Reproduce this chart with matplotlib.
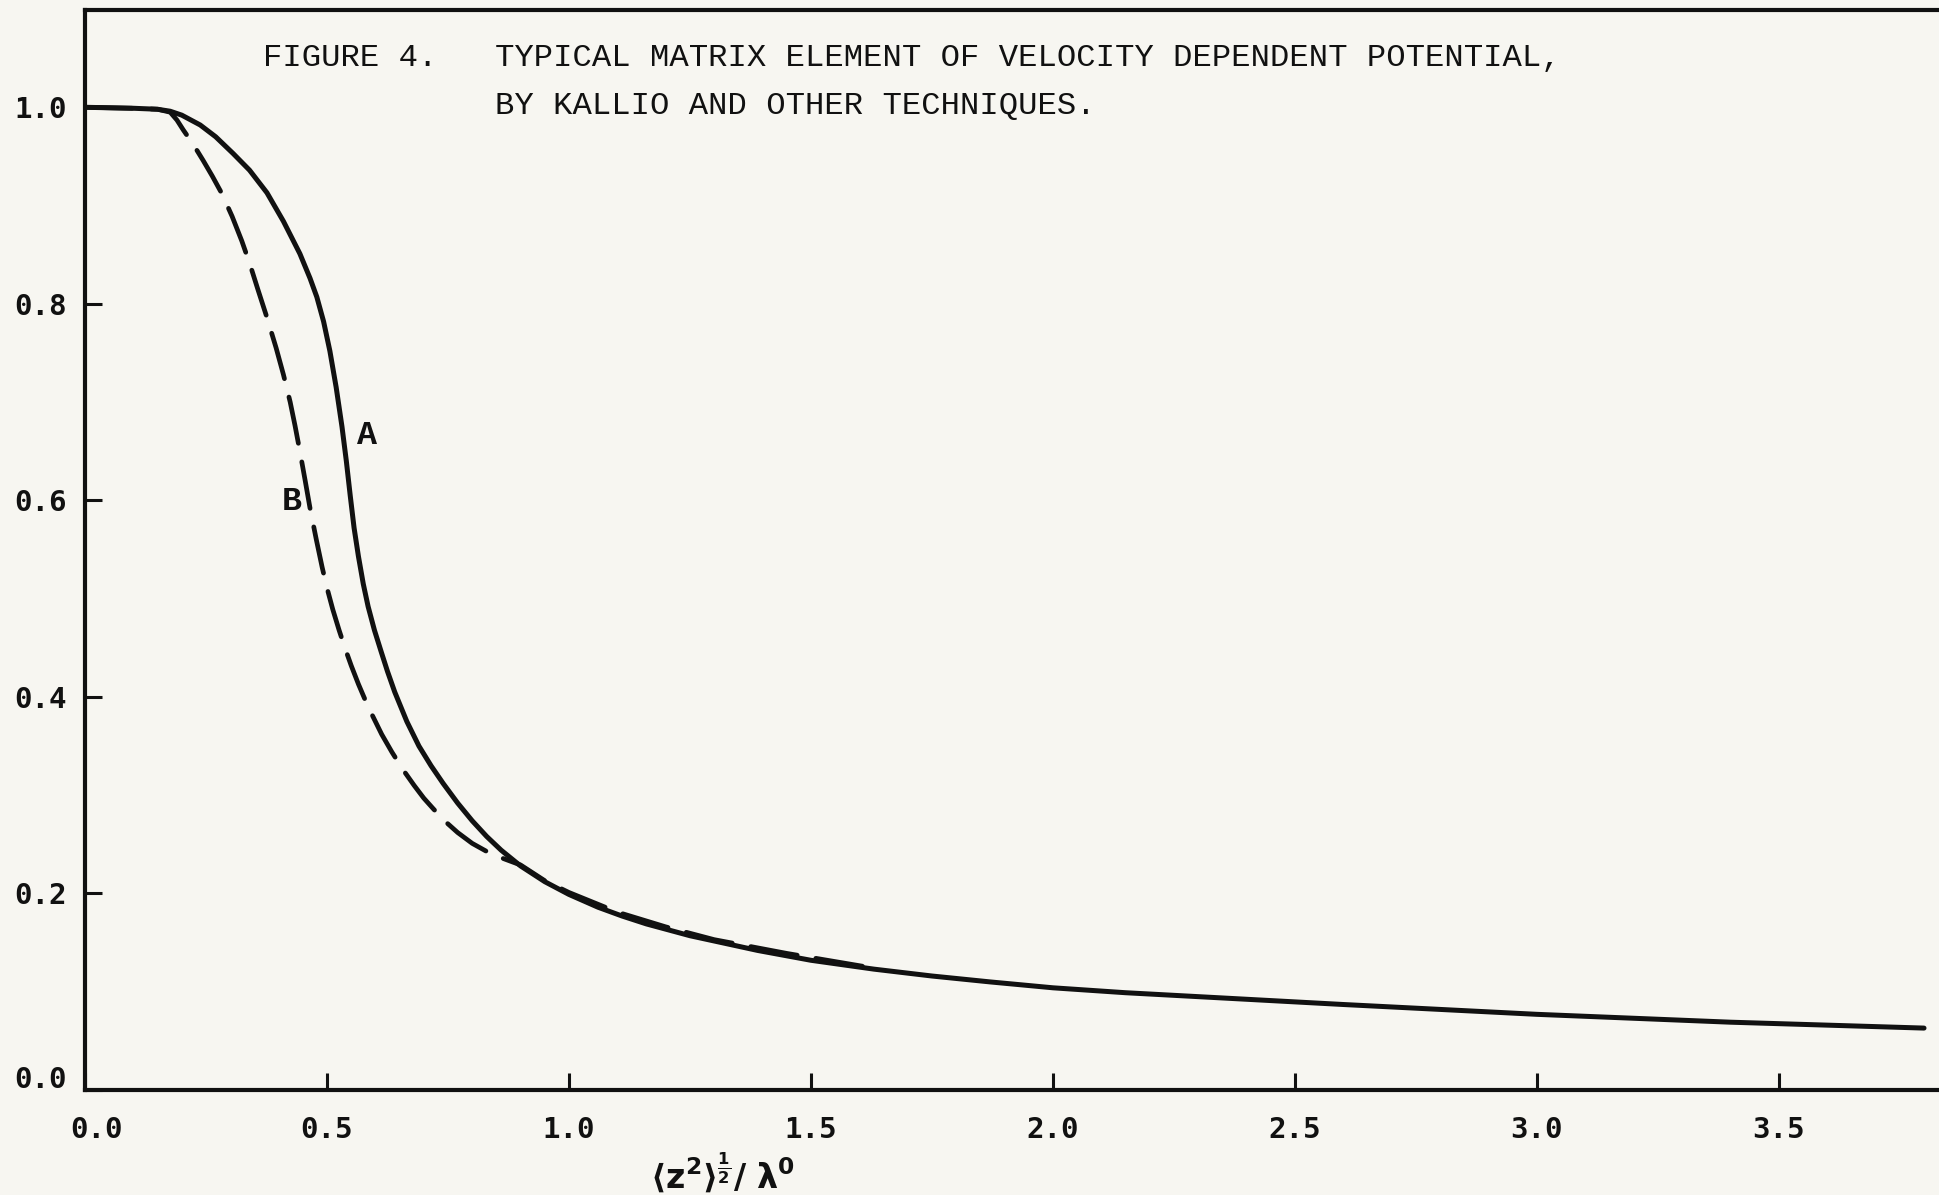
import numpy as np
import matplotlib.pyplot as plt
from matplotlib.transforms import ScaledTranslation

# curve A (solid)
x_a = [0.0, 0.10, 0.15, 0.176, 0.20, 0.238, 0.27, 0.306, 0.34, 0.376,
       0.41, 0.444, 0.465, 0.479, 0.493, 0.506, 0.519, 0.531, 0.540, 0.548,
       0.556, 0.565, 0.575, 0.585, 0.598, 0.612, 0.625, 0.64, 0.665, 0.69,
       0.715, 0.74, 0.77, 0.80, 0.83, 0.86, 0.90, 0.95, 1.0, 1.06,
       1.11, 1.16, 1.25, 1.39, 1.5, 1.63, 1.75, 1.87, 2.0, 2.15,
       2.3, 2.45, 2.6, 2.8, 3.0, 3.2, 3.4, 3.6, 3.8]
y_a = [1.0, 0.999, 0.998, 0.996, 0.992, 0.982, 0.970, 0.953, 0.936, 0.913,
       0.884, 0.851, 0.826, 0.807, 0.782, 0.752, 0.715, 0.675, 0.640, 0.605,
       0.572, 0.543, 0.515, 0.492, 0.468, 0.446, 0.426, 0.405, 0.375, 0.350,
       0.330, 0.312, 0.292, 0.274, 0.258, 0.244, 0.228, 0.212, 0.199, 0.186,
       0.177, 0.169, 0.157, 0.142, 0.132, 0.123, 0.116, 0.110, 0.104, 0.099,
       0.095, 0.091, 0.087, 0.082, 0.077, 0.073, 0.069, 0.066, 0.063]

# curve B (dashed)
x_b = [0.0, 0.10, 0.15, 0.176, 0.19, 0.203, 0.224, 0.244, 0.263, 0.283,
       0.304, 0.324, 0.341, 0.357, 0.376, 0.395, 0.41, 0.424, 0.434, 0.444,
       0.455, 0.465, 0.478, 0.49, 0.50, 0.512, 0.525, 0.537, 0.55, 0.565,
       0.578, 0.593, 0.613, 0.634, 0.657, 0.68, 0.70, 0.72, 0.745, 0.77,
       0.80, 0.84, 0.90, 0.95, 1.0, 1.1, 1.2, 1.3, 1.45, 1.63]
y_b = [1.0, 0.999, 0.998, 0.995, 0.987, 0.977, 0.962, 0.946, 0.930, 0.912,
       0.889, 0.864, 0.840, 0.815, 0.786, 0.755, 0.728, 0.700, 0.676, 0.650,
       0.620, 0.592, 0.560, 0.532, 0.511, 0.489, 0.468, 0.450, 0.432, 0.413,
       0.398, 0.382, 0.362, 0.344, 0.326, 0.310, 0.297, 0.286, 0.273, 0.262,
       0.251, 0.240, 0.229, 0.213, 0.201, 0.181, 0.166, 0.153, 0.139, 0.124]

xticks = [0.0, 0.5, 1.0, 1.5, 2.0, 2.5, 3.0, 3.5]
yticks = [0.0, 0.2, 0.4, 0.6, 0.8, 1.0]

ink = '#111111'
paper = '#f7f6f1'
plt.rcParams['mathtext.fontset'] = 'dejavusans'

fig = plt.figure(figsize=(19.4, 11.95), dpi=100, facecolor=paper)
ax = fig.add_axes([85/1940, 1 - 1090/1195, 1 - 85/1940, (1090 - 10)/1195])
ax.set_facecolor(paper)

ax.plot(x_a, y_a, color=ink, linewidth=3.6, solid_capstyle='round',
        solid_joinstyle='round')
ax.plot(x_b, y_b, color=ink, linewidth=3.4, dashes=(10, 4), dash_capstyle='round')

ax.set_xlim(0, 3.833)
ax.set_ylim(0, 1.099)
ax.spines['right'].set_visible(False)
for s in ['left', 'top', 'bottom']:
    ax.spines[s].set_linewidth(3)
    ax.spines[s].set_color(ink)

ax.set_xticks(xticks)
ax.set_yticks(yticks)
ax.set_xticklabels([f'{v:.1f}' for v in xticks])
ax.set_yticklabels([f'{v:.1f}' for v in yticks])
ax.tick_params(direction='in', length=12, width=2.2, color=ink, labelcolor=ink)
ax.tick_params(axis='x', pad=19)
ax.tick_params(axis='y', pad=13)
for lab in ax.get_xticklabels() + ax.get_yticklabels():
    lab.set_fontfamily('DejaVu Sans Mono')
    lab.set_fontweight('bold')
    lab.set_fontsize(21)

# the scan has the origin labels nudged a little
lx0 = ax.get_xticklabels()[0]
lx0.set_transform(lx0.get_transform() + ScaledTranslation(0.12, 0, fig.dpi_scale_trans))
ly0 = ax.get_yticklabels()[0]
ly0.set_transform(ly0.get_transform() + ScaledTranslation(0, 0.13, fig.dpi_scale_trans))

# curve labels
ax.text(0.583, 0.666, 'A', fontfamily='Liberation Mono', fontweight='bold',
        fontsize=24, color=ink, ha='center', va='center')
ax.text(0.428, 0.599, 'B', fontfamily='Liberation Mono', fontweight='bold',
        fontsize=24, color=ink, ha='center', va='center')

# title typed on the page
tfont = dict(fontfamily='Liberation Mono', fontsize=23.2, color=ink, va='center')
fig.text(263/1940, 1 - 58/1195, 'FIGURE 4.', **tfont)
fig.text(495/1940, 1 - 58/1195,
         'TYPICAL MATRIX ELEMENT OF VELOCITY DEPENDENT POTENTIAL,', **tfont)
fig.text(495/1940, 1 - 106/1195, 'BY KALLIO AND OTHER TECHNIQUES.', **tfont)

# x axis label
fig.text(722/1940, 1 - 1173/1195,
         r'$\mathbf{\langle z^{2}\rangle^{\frac{1}{2}}/\ \lambda^{0}}$',
         fontsize=24, color=ink, ha='center', va='center')

plt.savefig('out.png', dpi=100, facecolor=paper)
